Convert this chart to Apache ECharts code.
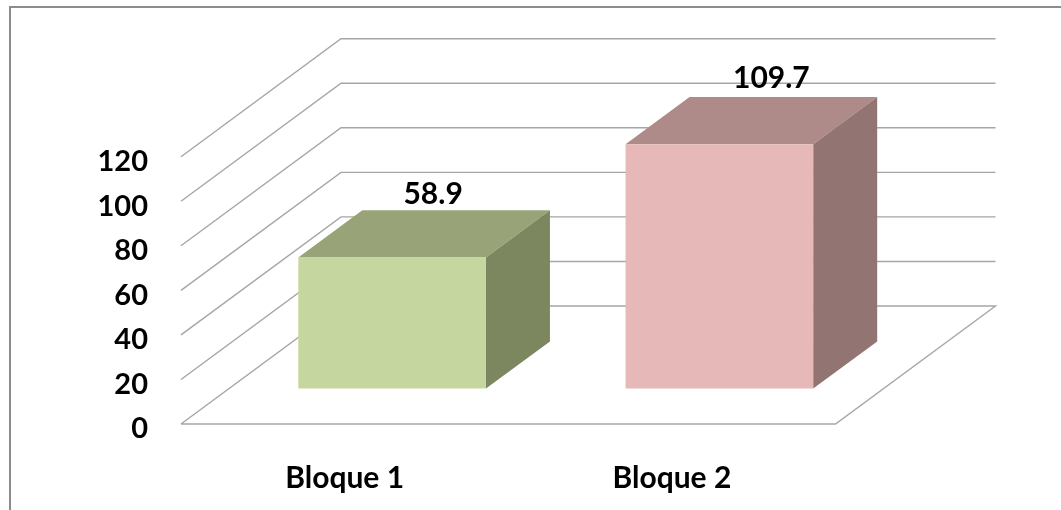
<!DOCTYPE html>
<html>
<head>
<meta charset="utf-8">
<style>
  html, body { margin: 0; padding: 0; background: #fff; }
  #chart { width: 1061px; height: 510px; }
</style>
<script src="https://cdn.jsdelivr.net/npm/echarts@6/dist/echarts.min.js"></script>
</head>
<body>
<div id="chart"></div>
<script>
// Block totals
const categories = ['Bloque 1', 'Bloque 2'];
const values = [58.9, 109.7];
const axisTicks = [0, 20, 40, 60, 80, 100, 120];

// Oblique projection of the chart floor, in pixels
const DEPTH_X = 160;
const DEPTH_Y = 118;
const BAR_WIDTH_RATIO = 0.5734;
const BAR_DEPTH_RATIO = 0.4;
const BAR_INSET_RATIO = 0.3;
const BAR_NUDGE_X = -0.5;

const FACE_COLORS = [
  { front: '#C5D79E', top: '#98A478', side: '#7C8760' },
  { front: '#E6B8B8', top: '#AE8B88', side: '#927473' }
];
const LABEL_SHIFT = [[9, -16], [20, -19]];
const WALL_LINE = '#A6A6A6';
const FONT = '"Lato", "Liberation Sans", sans-serif';

function line(points) {
  return {
    type: 'polyline',
    shape: { points: points },
    style: { stroke: WALL_LINE, lineWidth: 1.4, fill: null }
  };
}

// Side wall and back wall rule for one axis tick, plus the floor outline at zero
function renderWall(params, api) {
  const tick = api.value(0);
  const bandWidth = api.size([1, 0])[0];
  const left = api.coord([0, tick]);
  const x0 = left[0] - bandWidth / 2;
  const y = left[1];
  const x1 = x0 + bandWidth * categories.length;
  const pts = [[x0, y], [x0 + DEPTH_X, y - DEPTH_Y], [x1 + DEPTH_X, y - DEPTH_Y]];
  if (tick === 0) {
    pts.push([x1, y], [x0, y]);
  }
  return line(pts);
}

// One oblique box standing on the floor
function renderBox(params, api) {
  const index = api.value(0);
  const value = api.value(1);
  const base = api.coord([index, 0]);
  const top = api.coord([index, value]);
  const band = api.size([1, 0])[0];
  const width = band * BAR_WIDTH_RATIO;
  const ox = DEPTH_X * BAR_INSET_RATIO;
  const oy = DEPTH_Y * BAR_INSET_RATIO;
  const dx = DEPTH_X * BAR_DEPTH_RATIO;
  const dy = DEPTH_Y * BAR_DEPTH_RATIO;
  const xl = base[0] - width / 2 + ox + BAR_NUDGE_X;
  const xr = xl + width;
  const yb = base[1] - oy;
  const yt = top[1] - oy;
  const c = FACE_COLORS[index];
  const shift = LABEL_SHIFT[index];
  return {
    type: 'group',
    children: [
      {
        type: 'polygon',
        shape: { points: [[xl, yt], [xr, yt], [xr + dx, yt - dy], [xl + dx, yt - dy]] },
        style: { fill: c.top }
      },
      {
        type: 'polygon',
        shape: { points: [[xr, yt], [xr + dx, yt - dy], [xr + dx, yb - dy], [xr, yb]] },
        style: { fill: c.side }
      },
      {
        type: 'rect',
        shape: { x: xl, y: yt, width: width, height: yb - yt },
        style: { fill: c.front }
      },
      {
        type: 'text',
        style: {
          text: value.toFixed(1),
          x: (xl + xr + dx) / 2 + shift[0],
          y: yt - dy + shift[1],
          align: 'center',
          verticalAlign: 'middle',
          fill: '#000',
          font: 'bold 30px ' + FONT
        },
        z2: 10
      }
    ]
  };
}

const chart = echarts.init(document.getElementById('chart'), null, { renderer: 'canvas' });
chart.setOption({
  animation: false,
  backgroundColor: '#fff',
  graphic: [{
    type: 'polyline',
    shape: { points: [[10, 510], [10, 7], [1061, 7]] },
    style: { stroke: '#8C8C8C', lineWidth: 2, fill: null },
    silent: true
  }],
  grid: { left: 181, right: 225.5, top: 156.7, bottom: 86 },
  xAxis: {
    type: 'category',
    data: categories,
    axisLine: { show: false },
    axisTick: { show: false },
    axisLabel: { margin: 39, fontFamily: FONT, fontWeight: 'bold', fontSize: 30, color: '#000' }
  },
  yAxis: {
    type: 'value',
    min: 0,
    max: 120,
    interval: 20,
    axisLine: { show: false },
    axisTick: { show: false },
    splitLine: { show: false },
    axisLabel: {
      margin: 33,
      verticalAlign: 'top',
      lineHeight: 10,
      fontFamily: FONT,
      fontWeight: 'bold',
      fontSize: 29,
      color: '#000'
    }
  },
  series: [
    {
      type: 'custom',
      name: 'Paredes',
      renderItem: renderWall,
      data: axisTicks.map(t => [t]),
      encode: { y: 0 },
      clip: false,
      silent: true,
      z: 1
    },
    {
      type: 'custom',
      name: 'Bloques',
      renderItem: renderBox,
      data: values.map((v, i) => [i, v]),
      encode: { x: 0, y: 1 },
      clip: false,
      z: 2
    }
  ]
});
</script>
</body>
</html>
